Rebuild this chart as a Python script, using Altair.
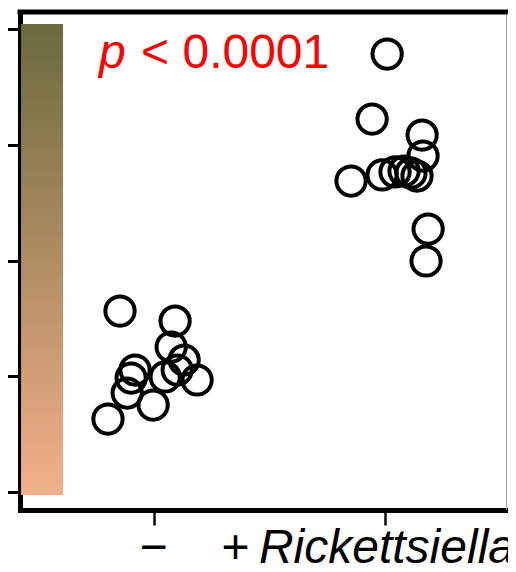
import altair as alt
import pandas as pd

# ---- data ----
neg_x = [0.855, 1.093, 1.076, 1.132, 0.920, 0.903, 1.102, 1.050, 1.188, 0.886, 0.998, 0.803]
neg_y = [1.564, 1.477, 1.253, 1.140, 1.054, 0.985, 1.054, 0.994, 0.968, 0.855, 0.752, 0.631]
pos_x = [2.009, 1.944, 2.160, 2.164, 1.853, 1.987, 2.043, 2.082, 2.112, 2.138, 2.186, 2.177]
pos_y = [3.784, 3.222, 3.084, 2.903, 2.687, 2.739, 2.765, 2.773, 2.756, 2.730, 2.272, 1.996]

x_ticks = [1, 2]
y_ticks = [0, 1, 2, 3, 4]

bar_x = [0.4276]
bar_x2 = [0.609]
bar_y = [-0.026]
bar_y2 = [4.043]
bar_colors = ["#6a6a3e", "#b08d63", "#f4b08a"]

p_label_x = [0.7646]
p_rest_x = [0.946]
p_label_y = [3.663]

cat_minus_x = [1.0]
cat_plus_x = [1.354]
cat_name_x = [1.455]
cat_label_y = [-0.613]

W, H = 488, 498
FONT = "Liberation Sans"

xs = alt.Scale(domain=[0.423, 2.531], nice=False, zero=False)
ys = alt.Scale(domain=[-0.155, 4.147], nice=False, zero=False)
xax = alt.Axis(values=x_ticks, labels=False, title=None, grid=False,
               domainWidth=5, domainColor="black", domainCap="square",
               tickWidth=2.5, tickSize=15, tickColor="black")
yax = alt.Axis(values=y_ticks, labels=False, title=None, grid=False,
               domainWidth=5, domainColor="black", domainCap="square",
               tickWidth=3, tickSize=16, tickColor="black")

def X(f):
    return alt.X(f, type="quantitative", scale=xs, axis=xax)

def Y(f):
    return alt.Y(f, type="quantitative", scale=ys, axis=yax)

pts = pd.DataFrame({"x": neg_x + pos_x, "y": neg_y + pos_y})
bar = pd.DataFrame({"x": bar_x, "x2": bar_x2, "y": bar_y, "y2": bar_y2})

grad = alt.Gradient(
    gradient="linear", x1=0, x2=0, y1=0, y2=1,
    stops=[alt.GradientStop(color=bar_colors[0], offset=0),
           alt.GradientStop(color=bar_colors[1], offset=0.5),
           alt.GradientStop(color=bar_colors[2], offset=1)],
)

bar_layer = alt.Chart(bar).mark_rect(fill=grad).encode(
    x=X("x"), x2="x2", y=Y("y"), y2="y2")

pt_layer = alt.Chart(pts).mark_point(
    shape="circle", filled=False, size=855, strokeWidth=4, color="black", opacity=1
).encode(x=X("x"), y=Y("y"))

def txt(xv, yv, text, **kw):
    df = pd.DataFrame({"x": xv, "y": yv, "t": [text]})
    return alt.Chart(df).mark_text(font=FONT, baseline="alphabetic", **kw).encode(
        x=X("x"), y=Y("y"), text="t:N")

p1 = txt(p_label_x, p_label_y, "p", align="left", fontSize=48, fontStyle="italic", color="red")
p2 = txt(p_rest_x, p_label_y, "< 0.0001", align="left", fontSize=48, color="red")
l1 = txt(cat_minus_x, cat_label_y, "\u2212", align="center", fontSize=48, color="black")
l2 = txt(cat_plus_x, cat_label_y, "+", align="center", fontSize=48, color="black")
l3 = txt(cat_name_x, cat_label_y, "Rickettsiella", align="left", fontSize=48,
         fontStyle="italic", color="black")

top_rule = alt.Chart(pd.DataFrame({"a": [0]})).mark_rule(
    color="black", strokeWidth=5, strokeCap="square"
).encode(x=alt.value(0), x2=alt.value(W), y=alt.value(0))
right_rule = alt.Chart(pd.DataFrame({"a": [0]})).mark_rule(
    color="#a0a0a0", strokeWidth=1
).encode(x=alt.value(W - 1.5), y=alt.value(0), y2=alt.value(H))

chart = alt.layer(bar_layer, right_rule, top_rule, pt_layer, p1, p2, l1, l2, l3).properties(
    width=W, height=H,
    autosize=alt.AutoSizeParams(type="none"),
    padding={"left": 12, "top": 4, "right": 0, "bottom": 54},
).configure_view(stroke=None)

chart.save("out.html", embed_options={"renderer": "svg", "actions": False})
